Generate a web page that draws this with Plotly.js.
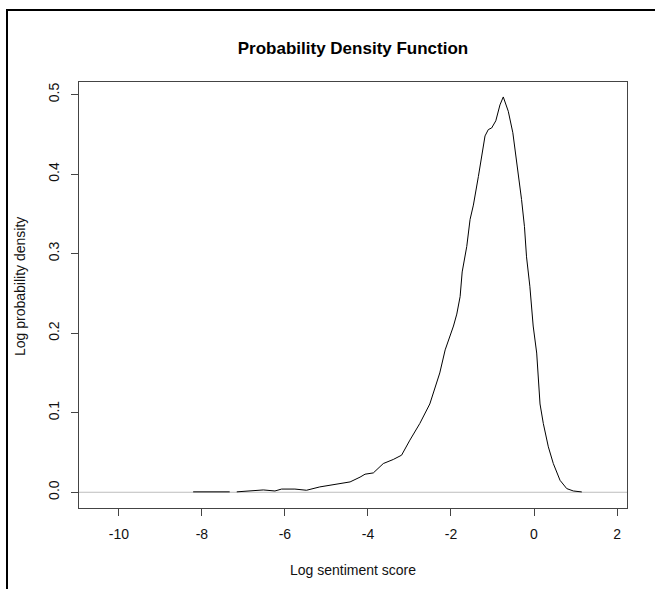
<!DOCTYPE html>
<html>
<head>
<meta charset="utf-8">
<script src="https://cdn.plot.ly/plotly-3.0.1.min.js"></script>
<style>
html,body{margin:0;padding:0;background:#fff;}
#wrap{position:relative;width:655px;height:589px;overflow:hidden;}
#frame{position:absolute;left:6px;top:9px;width:660px;height:600px;border-left:2px solid #000;border-top:2px solid #000;pointer-events:none;}
#chart{position:absolute;left:0;top:0;width:655px;height:589px;}
</style>
</head>
<body>
<div id="wrap"><div id="chart"></div><div id="frame"></div></div>
<script>
// Density curve (x = log sentiment score, y = density)
var scoreX = [-8.21, -7.33, null, -7.16, -6.88, -6.52, -6.24, -6.08, -5.76, -5.48, -5.16, -4.67, -4.43, -4.19,
  -4.07, -3.87, -3.71, -3.63, -3.39, -3.19, -2.99, -2.75, -2.51, -2.34, -2.27, -2.14, -1.94, -1.86, -1.78,
  -1.73, -1.62, -1.54, -1.46, -1.34, -1.26, -1.18, -1.10, -1.02, -0.92, -0.82, -0.74, -0.62, -0.51, -0.40,
  -0.30, -0.23, -0.18, -0.10, -0.02, 0.065, 0.10, 0.145, 0.224, 0.345, 0.465, 0.627, 0.788, 0.947, 1.15];
var densityY = [0.0005, 0.0005, null, 0.0005, 0.0016, 0.0029, 0.0016, 0.0040, 0.0040, 0.0025, 0.0067, 0.011, 0.013, 0.019,
  0.0227, 0.0243, 0.0319, 0.0361, 0.0412, 0.0466, 0.0655, 0.0865, 0.111, 0.137, 0.150, 0.179, 0.209, 0.224, 0.246,
  0.277, 0.309, 0.343, 0.361, 0.397, 0.422, 0.448, 0.456, 0.458, 0.467, 0.487, 0.497, 0.479, 0.452, 0.410,
  0.368, 0.334, 0.296, 0.259, 0.209, 0.175, 0.143, 0.111, 0.0865, 0.0571, 0.0361, 0.015, 0.0046, 0.0016, 0.0004];
var xTicks = [-10, -8, -6, -4, -2, 0, 2];
var yTicks = [0.0, 0.1, 0.2, 0.3, 0.4, 0.5];
var yTickLabels = ["0.0", "0.1", "0.2", "0.3", "0.4", "0.5"];
var chartTitle = "Probability Density Function";
var xTitle = "Log sentiment score";
var yTitle = "Log probability density";

var font = "Liberation Sans, Arial, sans-serif";
var trace = {
  x: scoreX, y: densityY, type: "scatter", mode: "lines", connectgaps: false,
  line: {color: "#000", width: 1}, hoverinfo: "skip"
};
var layout = {
  width: 655, height: 589,
  margin: {l: 79, r: 28, t: 82, b: 81},
  paper_bgcolor: "#fff", plot_bgcolor: "#fff",
  showlegend: false,
  font: {family: font, size: 14, color: "#111"},
  title: {text: "<b>" + chartTitle + "</b>", font: {family: font, size: 17, color: "#000"},
    x: 0.5, xref: "paper", xanchor: "center", y: 1 - 48/589, yref: "container", yanchor: "middle"},
  xaxis: {
    range: [-10.96, 2.24], tickmode: "array", tickvals: xTicks, ticktext: xTicks.map(String),
    ticks: "outside", ticklen: 7, tickcolor: "#444", tickwidth: 1, ticklabelstandoff: 6,
    showline: true, mirror: true, linecolor: "#444", linewidth: 1,
    showgrid: false, zeroline: false, automargin: false,
    tickfont: {family: font, size: 14, color: "#111"}
  },
  yaxis: {
    range: [-0.0198, 0.5158], tickmode: "array", tickvals: yTicks, ticktext: yTickLabels,
    tickangle: -90,
    ticks: "outside", ticklen: 7, tickcolor: "#444", tickwidth: 1, ticklabelstandoff: 6,
    showline: true, mirror: true, linecolor: "#444", linewidth: 1,
    showgrid: false, zeroline: false, automargin: false,
    tickfont: {family: font, size: 14, color: "#111"}
  },
  annotations: [
    {text: xTitle, xref: "paper", x: 0.5, yref: "paper", y: (508 - 570) / 426, xanchor: "center", yanchor: "middle",
      showarrow: false, font: {family: font, size: 14, color: "#111"}},
    {text: yTitle, xref: "paper", x: (20 - 79) / 548, yref: "paper", y: (508 - 287) / 426, xanchor: "center", yanchor: "middle",
      textangle: -90, showarrow: false, font: {family: font, size: 14, color: "#111"}}
  ],
  shapes: [{type: "line", xref: "paper", x0: 0, x1: 1, yref: "y", y0: 0, y1: 0,
    line: {color: "#bdbdbd", width: 1}, layer: "below"}]
};
Plotly.newPlot("chart", [trace], layout, {staticPlot: true, displayModeBar: false});
</script>
</body>
</html>
